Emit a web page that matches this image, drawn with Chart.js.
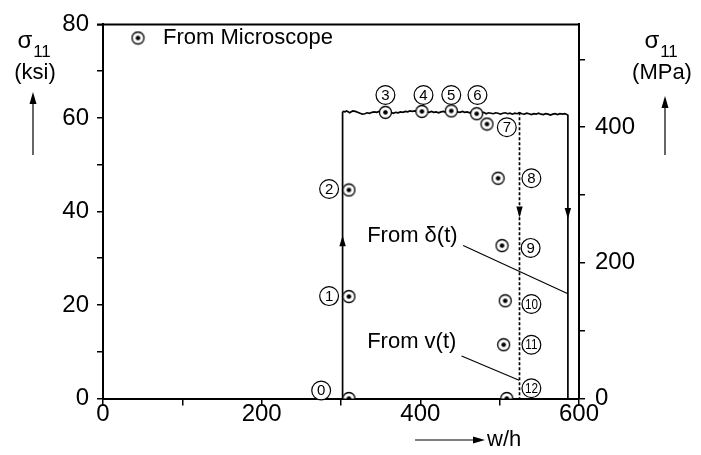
<!DOCTYPE html>
<html>
<head>
<meta charset="utf-8">
<script src="https://cdn.jsdelivr.net/npm/chart.js@4.4.1/dist/chart.umd.min.js"></script>
<style>
html,body{margin:0;padding:0;background:#fff;}
#wrap{width:701px;height:455px;position:relative;}
</style>
</head>
<body>
<div id="wrap"><canvas id="c" width="701" height="455"></canvas></div>
<script>
// ---- data (w/h, sigma11 in ksi) ----
const stressX = [302, 302, 303, 305, 307, 309, 311, 313, 315, 318, 321, 324, 327, 330, 333, 336, 339, 342, 345, 348, 351, 354, 357, 360, 363, 366, 369, 372, 375, 378, 381, 384, 387, 390, 393, 396, 399, 402, 405, 408, 411, 414, 417, 420, 423, 426, 429, 432, 435, 438, 441, 444, 447, 450, 453, 456, 459, 462, 465, 468, 471, 474, 477, 480, 483, 486, 489, 492, 495, 498, 501, 504, 507, 510, 513, 516, 519, 522, 525, 528, 531, 534, 537, 540, 543, 546, 549, 552, 555, 558, 561, 564, 567, 570, 573, 576, 579, 582, 584, 586, 586];
const stressY = [0, 61.2, 61.4, 61.3, 61.5, 61.3, 61.1, 61.3, 61.5, 61.4, 61.2, 61.0, 60.8, 60.9, 61.1, 61.0, 61.2, 61.3, 61.2, 61.4, 61.3, 61.5, 61.3, 61.1, 61.2, 61.0, 61.2, 61.1, 61.3, 61.2, 61.4, 61.3, 61.5, 61.4, 61.5, 61.3, 61.5, 61.4, 61.6, 61.3, 61.2, 61.4, 61.2, 61.3, 61.1, 61.3, 61.4, 61.2, 61.4, 61.5, 61.3, 61.5, 61.3, 61.2, 61.4, 61.2, 61.3, 61.1, 61.3, 61.2, 61.0, 61.2, 61.1, 61.2, 60.9, 61.1, 61.0, 60.9, 61.1, 61.0, 60.8, 61.0, 61.1, 60.9, 61.0, 60.8, 61.0, 60.9, 61.1, 60.9, 60.8, 61.0, 60.9, 60.7, 60.9, 60.8, 61.0, 60.8, 60.7, 60.9, 60.8, 60.6, 60.8, 60.9, 60.7, 60.9, 60.8, 60.9, 60.8, 60.6, 0];
const vX = [525, 525];
const vY = [61.2, 0];
const microX = [310, 310, 310, 356, 402, 439, 471, 484, 498, 503, 507, 505, 509];
const microY = [0, 21.8, 44.6, 61.2, 61.4, 61.5, 60.9, 58.7, 47.1, 32.7, 20.9, 11.5, 0];
const pointNums = ['0','1','2','3','4','5','6','7','8','9','10','11','12'];
const numX = [275, 285, 285, 356, 404, 439, 472, 509, 540, 539, 540, 540, 540];
const numY = [1.7, 21.9, 44.8, 64.9, 64.9, 64.9, 64.9, 58.0, 47.1, 32.2, 20.2, 11.5, 2.2];
const xTicks = [0, 200, 400, 600];
const yTicks = [0, 20, 40, 60, 80];
const mpaTicks = [0, 200, 400];
const KSI_TO_MPA = 6.895;

const FONT = '"Liberation Sans", Arial, Helvetica, sans-serif';

function makeMarker(){
  const c = document.createElement('canvas');
  c.width = 15; c.height = 15;
  const g = c.getContext('2d');
  g.beginPath(); g.arc(7.5,7.5,6,0,2*Math.PI);
  g.fillStyle='#fff'; g.fill();
  g.lineWidth=1.3; g.strokeStyle='#000'; g.stroke();
  g.beginPath(); g.arc(7.5,7.5,2.3,0,2*Math.PI);
  g.fillStyle='#000'; g.fill();
  return c;
}
const marker = makeMarker();

function toPts(xs, ys){ return xs.map((x,i)=>({x:x, y:ys[i]})); }

function arrowHead(ctx, x, y, dir, len, hw){
  ctx.beginPath();
  if(dir==='up'){ ctx.moveTo(x,y); ctx.lineTo(x-hw,y+len); ctx.lineTo(x+hw,y+len); }
  else if(dir==='down'){ ctx.moveTo(x,y); ctx.lineTo(x-hw,y-len); ctx.lineTo(x+hw,y-len); }
  else { ctx.moveTo(x,y); ctx.lineTo(x-len,y-hw); ctx.lineTo(x-len,y+hw); }
  ctx.closePath(); ctx.fill();
}

const decor = {
  id:'decor',
  afterDatasetsDraw(chart){
    const ctx = chart.ctx, xs = chart.scales.x, ys = chart.scales.y;
    const px = v=>xs.getPixelForValue(v), py = v=>ys.getPixelForValue(v);
    ctx.save();
    ctx.fillStyle='#000'; ctx.strokeStyle='#000';
    // top border
    ctx.lineWidth=2;
    ctx.beginPath(); ctx.moveTo(chart.chartArea.left-6, chart.chartArea.top); ctx.lineTo(chart.chartArea.right+1, chart.chartArea.top); ctx.stroke();
    // arrowheads on the curves
    arrowHead(ctx, px(302), py(34.9), 'up', 11, 3.2);
    arrowHead(ctx, px(586), py(38.4), 'down', 11, 3.2);
    arrowHead(ctx, px(525), py(38.7), 'down', 11, 3.2);
    // leader lines
    ctx.lineWidth=1.1;
    ctx.beginPath(); ctx.moveTo(px(454), py(32.7)); ctx.lineTo(px(586), py(22.4)); ctx.stroke();
    ctx.beginPath(); ctx.moveTo(px(452), py(9.1)); ctx.lineTo(px(524.5), py(3.9)); ctx.stroke();
    // annotation texts
    ctx.font = '22px '+FONT; ctx.textAlign='left'; ctx.textBaseline='middle';
    ctx.fillText('From δ(t)', px(333), py(34.8));
    ctx.fillText('From v(t)', px(333), py(12.2));
    // numbered circles
    for(let i=0;i<pointNums.length;i++){
      const cx=px(numX[i]), cy=py(numY[i]);
      ctx.beginPath(); ctx.arc(cx,cy,9.4,0,2*Math.PI);
      ctx.fillStyle='#fff'; ctx.fill();
      ctx.lineWidth=1.2; ctx.strokeStyle='#000'; ctx.stroke();
      ctx.fillStyle='#000';
      ctx.textAlign='center'; ctx.textBaseline='middle';
      const s = pointNums[i];
      if(s.length>1){
        ctx.save(); ctx.translate(cx,cy+0.5); ctx.scale(0.78,1);
        ctx.font='15px '+FONT; ctx.fillText(s,0,0); ctx.restore();
      } else {
        ctx.font='15px '+FONT; ctx.fillText(s,cx,cy+0.5);
      }
    }
    // legend
    ctx.drawImage(marker, 138-7.5, 38-7.5);
    ctx.font='22px '+FONT; ctx.textAlign='left'; ctx.textBaseline='middle';
    ctx.fillText('From Microscope', 163, 38);
    // left axis title
    ctx.textAlign='center';
    ctx.font='24px '+FONT; ctx.fillText('σ', 25, 41);
    ctx.font='17px '+FONT; ctx.fillText('11', 42, 52);
    ctx.font='22px '+FONT; ctx.fillText('(ksi)', 35, 73);
    ctx.lineWidth=1.2;
    ctx.beginPath(); ctx.moveTo(33,155); ctx.lineTo(33,100); ctx.stroke();
    arrowHead(ctx, 33, 92, 'up', 12, 3.5);
    // right axis title
    ctx.font='24px '+FONT; ctx.fillText('σ', 652, 41);
    ctx.font='17px '+FONT; ctx.fillText('11', 669, 52);
    ctx.font='22px '+FONT; ctx.fillText('(MPa)', 662, 73);
    ctx.beginPath(); ctx.moveTo(665,155); ctx.lineTo(665,105); ctx.stroke();
    arrowHead(ctx, 665, 96, 'up', 12, 3.5);
    // x title
    ctx.beginPath(); ctx.moveTo(415,440); ctx.lineTo(474,440); ctx.stroke();
    arrowHead(ctx, 485, 440, 'right', 12, 3.5);
    ctx.font='22px '+FONT; ctx.textAlign='left';
    ctx.fillText('w/h', 487, 440);
    ctx.restore();
  }
};

new Chart(document.getElementById('c'), {
  type:'scatter',
  data:{
    datasets:[
      {label:'From Microscope', data: toPts(microX, microY), pointStyle: marker, pointRadius:7, pointHoverRadius:7, showLine:false},
      {label:'stress', data: toPts(stressX, stressY), showLine:true, borderColor:'#000', borderWidth:1.7, pointRadius:0, tension:0, fill:false},
      {label:'v(t)', data: toPts(vX, vY), showLine:true, borderColor:'#000', borderWidth:1.7, borderDash:[3,2], pointRadius:0, fill:false}
    ]
  },
  options:{
    responsive:false, animation:false, devicePixelRatio:1,
    layout:{padding:{top:16, left:0, right:0, bottom:0}},
    plugins:{legend:{display:false}, tooltip:{enabled:false}},
    scales:{
      x:{type:'linear', position:'bottom', min:0, max:600,
        ticks:{stepSize:100, autoSkip:false, maxRotation:0, color:'#000', font:{size:24, family:FONT, lineHeight:1}, padding:-3,
          callback:v=> xTicks.includes(v) ? String(v) : ''},
        grid:{drawOnChartArea:false, drawTicks:true, tickLength:7, color:'#000', lineWidth:1.5},
        border:{color:'#000', width:2},
        afterFit:s=>{s.height=56.5;}
      },
      y:{type:'linear', position:'left', min:0, max:80,
        ticks:{stepSize:10, autoSkip:false, color:'#000', font:{size:24, family:FONT}, padding:8,
          callback:v=> yTicks.includes(v) ? String(v) : ''},
        grid:{drawOnChartArea:false, drawTicks:true, tickLength:6, color:'#000', lineWidth:1.5},
        border:{color:'#000', width:2},
        afterFit:s=>{s.width=103;}
      },
      y2:{type:'linear', position:'right', min:0, max:80*KSI_TO_MPA,
        ticks:{stepSize:100, includeBounds:false, autoSkip:false, color:'#000', font:{size:24, family:FONT}, padding:10,
          callback:v=> mpaTicks.includes(v) ? String(v) : ''},
        grid:{drawOnChartArea:false, drawTicks:true, tickLength:6, color:'#000', lineWidth:1.5},
        border:{color:'#000', width:2},
        afterFit:s=>{s.width=122;}
      }
    }
  },
  plugins:[decor]
});
</script>
</body>
</html>
